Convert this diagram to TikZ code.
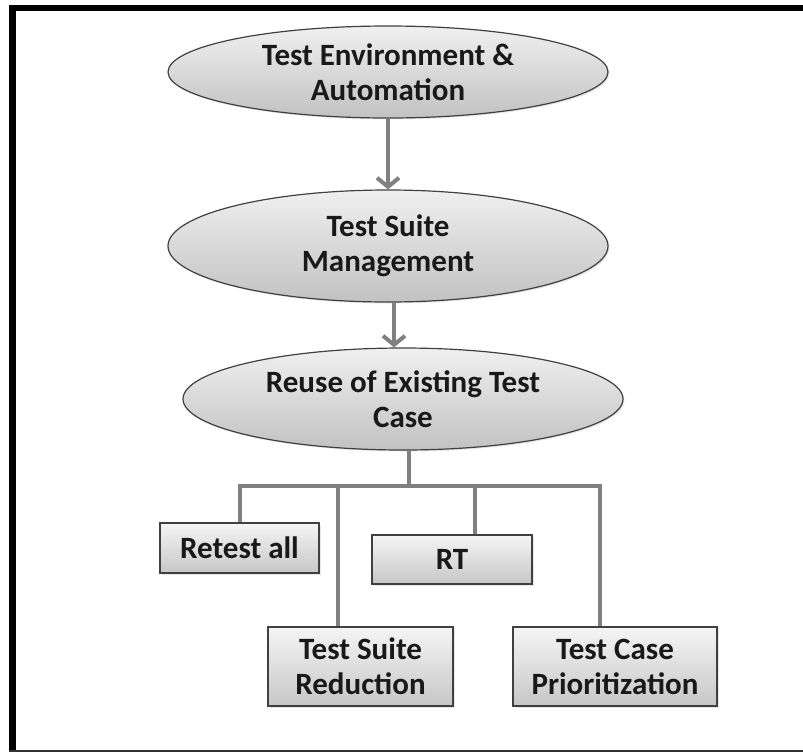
\documentclass[tikz,border=0pt]{standalone}
\usepackage{fontspec}
\setmainfont{Carlito}
\usetikzlibrary{shapes.geometric, arrows.meta, shadows}
\tikzset{
  stage/.style = {ellipse, draw=black!75, line width=1.2pt,
                  top color=black!6, bottom color=black!24,
                  minimum width=440pt, inner xsep=0pt, inner ysep=-14pt,
                  align=center, text=black!90,
                  font=\bfseries\fontsize{31}{35}\selectfont,
                  drop shadow={opacity=0.2, shadow xshift=1.5pt, shadow yshift=-1.5pt}},
  leaf/.style  = {rectangle, draw=black!75, line width=1.2pt,
                  top color=black!4, bottom color=black!22,
                  inner sep=0pt, align=center, text=black!90,
                  font=\bfseries\fontsize{31}{35}\selectfont,
                  drop shadow={opacity=0.2, shadow xshift=1.5pt, shadow yshift=-1.5pt}},
  flow/.style  = {draw=black!50, line width=4pt,
                  -{Straight Barb[length=9pt, width=22pt]}},
  link/.style  = {draw=black!50, line width=4pt}
}

\begin{document}
\begin{tikzpicture}[x=1pt, y=-1pt]
	\useasboundingbox (0,0) rectangle (803,753);
	
	% Frame
	\fill[black] (9,5) rectangle (803,11);
	\fill[black] (9,5) rectangle (16,751);
	\draw[black!80, line width=2pt] (9,751) -- (803,751);
	
	% Stages
	\node[stage, minimum height=92pt]  (tea)   at (388,72)  {Test Environment \&\\Automation};
	\node[stage, minimum height=112pt] (tsm)   at (388,246) {Test Suite\\Management};
	\node[stage, minimum height=102pt] (reuse) at (403,399) {Reuse of Existing Test\\Case};
	
	% Techniques
	\node[leaf, minimum width=159pt, minimum height=50pt] (retest) at (239.5,548) {Retest all};
	\node[leaf, minimum width=160pt, minimum height=49pt] (rt)     at (452,559.5) {RT};
	\node[leaf, minimum width=185pt, minimum height=79pt] (tsr)    at (360.5,666.5) {Test Suite\\Reduction};
	\node[leaf, minimum width=204pt, minimum height=79pt] (tcp)    at (615,666.5) {Test Case\\Prioritization};
	
	% Arrows
	\draw[flow] (tea) -- (tsm);
	\draw[flow] ([xshift=6pt]tsm.south) -- ([xshift=-9pt]reuse.north);
	
	% Tree
	\coordinate (bus) at (409,486);
	\coordinate (tsrdrop) at ([xshift=-22.5pt]tsr.north);
	\coordinate (rtdrop)  at ([xshift=23pt]rt.north);
	\draw[link] ([xshift=6pt]reuse.south) -- (bus);
	\draw[link] (retest.north) |- (bus) -| ([xshift=-15pt]tcp.north);
	\draw[link] (tsrdrop) -- (tsrdrop |- bus);
	\draw[link] (rtdrop)  -- (rtdrop |- bus);
	
\end{tikzpicture}
\end{document}
